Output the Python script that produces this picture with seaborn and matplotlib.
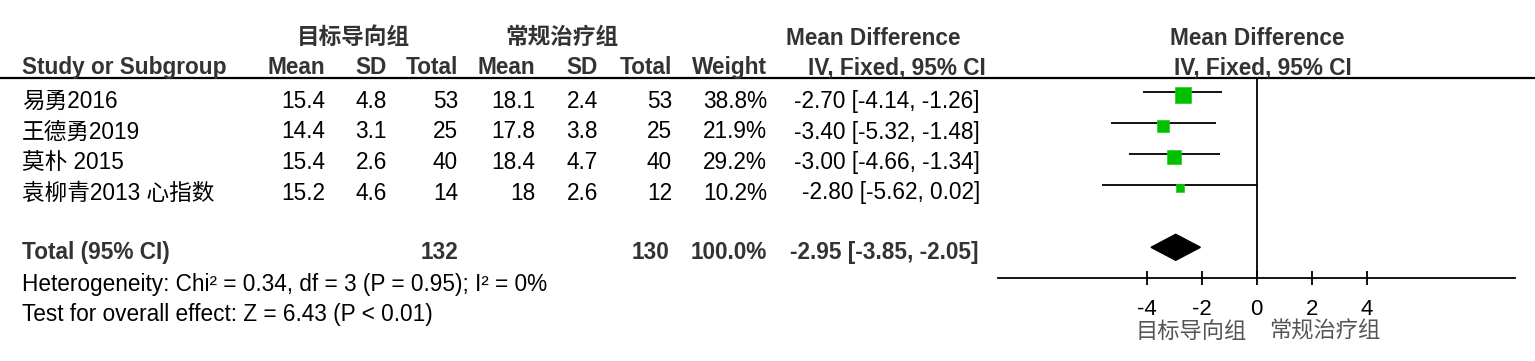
import matplotlib
matplotlib.use("Agg")
import matplotlib.pyplot as plt
import seaborn as sns
import pandas as pd

# ---------------- data ----------------
studies = ['易勇2016', '王德勇2019', '莫朴 2015', '袁柳青2013 心指数']
exp_mean = [15.4, 14.4, 15.4, 15.2]
exp_sd = [4.8, 3.1, 2.6, 4.6]
exp_n = [53, 25, 40, 14]
ctl_mean = [18.1, 17.8, 18.4, 18]
ctl_sd = [2.4, 3.8, 4.7, 2.6]
ctl_n = [53, 25, 40, 12]
weights = [38.8, 21.9, 29.2, 10.2]
md = [-2.70, -3.40, -3.00, -2.80]
ci_lo = [-4.14, -5.32, -4.66, -5.62]
ci_hi = [-1.26, -1.48, -1.34, 0.02]

total_exp_n = 132
total_ctl_n = 130
total_weight = 100.0
total_md = -2.95
total_lo = -3.85
total_hi = -2.05

group_exp = '目标导向组'
group_ctl = '常规治疗组'
heterogeneity = 'Heterogeneity: Chi² = 0.34, df = 3 (P = 0.95); I² = 0%'
overall = 'Test for overall effect: Z = 6.43 (P < 0.01)'
x_ticks = [-4, -2, 0, 2, 4]

# ---------------- style ----------------
sns.set_theme(style='white')
plt.rcParams['font.family'] = ['Liberation Sans', 'Noto Sans CJK SC', 'DejaVu Sans']

W, H = 1535, 361
fig = plt.figure(figsize=(W / 100, H / 100), dpi=100)

# table axes in pixel coordinates
ax_t = fig.add_axes([0, 0, 1, 1])
ax_t.set_xlim(0, W)
ax_t.set_ylim(H, 0)
ax_t.axis('off')

FS = 16.3
hdr_col = '#333333'
hb = dict(fontsize=FS, fontweight='bold', color=hdr_col)

# header line
ax_t.hlines(77.5, 0, W, color='black', lw=1.6)

# headers row 1
ax_t.text(353, 37, group_exp, ha='center', va='center', **hb)
ax_t.text(562, 37, group_ctl, ha='center', va='center', **hb)
ax_t.text(873, 45, 'Mean Difference', ha='center', va='baseline', **hb)
ax_t.text(1257, 45, 'Mean Difference', ha='center', va='baseline', **hb)

# headers row 2
hy = 74
ax_t.text(22, hy, 'Study or Subgroup', ha='left', va='baseline', **hb)
col_right = [325, 387, 458, 535, 598, 672, 767]
col_names = ['Mean', 'SD', 'Total', 'Mean', 'SD', 'Total', 'Weight']
for xr, nm in zip(col_right, col_names):
    ax_t.text(xr, hy, nm, ha='right', va='baseline', **hb)
ax_t.text(897, hy, 'IV, Fixed, 95% CI', ha='center', va='baseline', **hb)
ax_t.text(1263, hy, 'IV, Fixed, 95% CI', ha='center', va='baseline', **hb)

# study rows
for i, s in enumerate(studies):
    y = 108 + 30.5 * i
    vals = [f'{exp_mean[i]:g}', f'{exp_sd[i]:g}', f'{exp_n[i]}',
            f'{ctl_mean[i]:g}', f'{ctl_sd[i]:g}', f'{ctl_n[i]}',
            f'{weights[i]:.1f}%']
    ax_t.text(22, y, s, ha='left', va='baseline', fontsize=FS, color='black')
    for xr, v in zip(col_right, vals):
        ax_t.text(xr, y, v, ha='right', va='baseline', fontsize=FS, color='black')
    ax_t.text(980, y, f'{md[i]:.2f} [{ci_lo[i]:.2f}, {ci_hi[i]:.2f}]',
              ha='right', va='baseline', fontsize=FS, color='black')

# total row
ty = 259
ax_t.text(22, ty, 'Total (95% CI)', ha='left', va='baseline', **hb)
ax_t.text(458, ty, f'{total_exp_n}', ha='right', va='baseline', **hb)
ax_t.text(669, ty, f'{total_ctl_n}', ha='right', va='baseline', **hb)
ax_t.text(767, ty, f'{total_weight:.1f}%', ha='right', va='baseline', **hb)
ax_t.text(978, ty, f'{total_md:.2f} [{total_lo:.2f}, {total_hi:.2f}]',
          ha='right', va='baseline', **hb)

ax_t.text(22, 291, heterogeneity, ha='left', va='baseline', fontsize=FS, color='black')
ax_t.text(22, 321, overall, ha='left', va='baseline', fontsize=FS, color='black')

# ---------------- forest axes ----------------
x0_px, scale = 1256.7, 27.45
left_px, right_px = 998, 1515
top_px, bot_px = 77.5, 278.3
row0_px, row_step = 92.3, 31.0

ax_f = fig.add_axes([left_px / W, (H - bot_px) / H,
                     (right_px - left_px) / W, (bot_px - top_px) / H])
ax_f.set_xlim((left_px - x0_px) / scale, (right_px - x0_px) / scale)
ax_f.set_ylim((bot_px - row0_px) / row_step, (top_px - row0_px) / row_step)
ax_f.patch.set_alpha(0)

rows = list(range(len(studies)))
df = pd.DataFrame({'row': rows, 'md': md, 'lo': ci_lo, 'hi': ci_hi, 'w': weights})

ax_f.hlines(df['row'], df['lo'], df['hi'], color='black', lw=1.3, zorder=2)
ax_f.axvline(0, color='black', lw=1.3, zorder=1)
sns.scatterplot(data=df, x='md', y=df['row'] + 0.1, size='w', sizes=(0, 340),
                size_norm=(0, 100), marker='s', color='#00c000',
                edgecolor='#22cc22', linewidth=0.5, legend=False, ax=ax_f, zorder=3)

total_row = len(studies) + 1
dh = 0.42
ax_f.fill([total_lo, total_md, total_hi, total_md],
          [total_row, total_row - dh, total_row, total_row + dh],
          color='black', zorder=3)

for sp in ['top', 'left', 'right']:
    ax_f.spines[sp].set_visible(False)
ax_f.spines['bottom'].set_color('black')
ax_f.spines['bottom'].set_linewidth(1.3)
ax_f.set_yticks([])
ax_f.set_xticks(x_ticks)
ax_f.set_xticklabels([f'{t}' for t in x_ticks])
ax_f.tick_params(axis='x', direction='inout', length=9.5, width=1.3,
                 labelsize=16, pad=10, colors='black', bottom=True)
ax_f.set_xlabel('')
ax_f.set_ylabel('')

# favours labels
ax_t.text(1247, 332, group_exp, ha='right', va='center', fontsize=16, color='#555555')
ax_t.text(1269, 332, group_ctl, ha='left', va='center', fontsize=16, color='#555555')

fig.savefig('out.png', dpi=100)
